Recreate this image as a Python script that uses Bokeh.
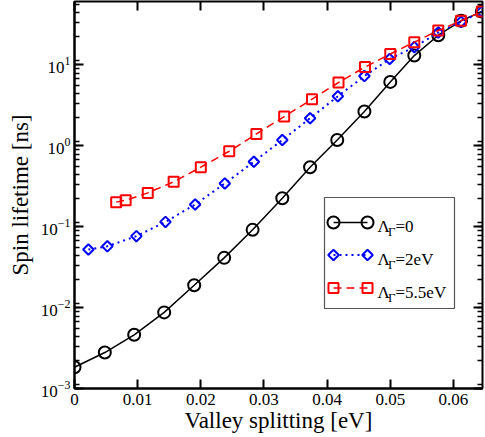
from bokeh.plotting import figure
from bokeh.models import Range1d, LinearAxis, LogAxis, LinearScale, FixedTicker, LogTicker, NumeralTickFormatter
from bokeh.core.properties import value
from bokeh.embed import file_html
from bokeh.resources import INLINE

# ---- data ----
x_lam0 = [0.0, 0.0048, 0.00945, 0.0142, 0.01895, 0.0237, 0.0282, 0.0329, 0.0373, 0.0416,
          0.0459, 0.0500, 0.0538, 0.0576, 0.0612, 0.0645]
y_lam0 = [0.00183, 0.00278, 0.0046, 0.0087, 0.0188, 0.041, 0.091, 0.223, 0.54, 1.17,
          2.63, 6.1, 12.9, 23.0, 34.7, 45.0]

x_lam2 = [0.0022, 0.0052, 0.0098, 0.0144, 0.0191, 0.0238, 0.0284, 0.0329, 0.0373, 0.0417,
          0.0459, 0.0499, 0.0538, 0.0576, 0.0612, 0.0645]
y_lam2 = [0.052, 0.057, 0.076, 0.114, 0.187, 0.34, 0.63, 1.17, 2.17, 4.06,
          7.2, 11.7, 16.4, 24.8, 33.7, 45.0]

x_lam55 = [0.0066, 0.0081, 0.0116, 0.0157, 0.0200, 0.0245, 0.0288, 0.0332, 0.0376, 0.0418,
           0.0460, 0.0500, 0.0538, 0.0576, 0.0612, 0.0645]
y_lam55 = [0.20, 0.211, 0.26, 0.356, 0.54, 0.85, 1.39, 2.28, 3.73, 6.0,
           9.3, 13.5, 18.9, 26.3, 34.7, 45.0]

x_ticks = [0.0, 0.01, 0.02, 0.03, 0.04, 0.05, 0.06]
legend_values = ["=0", "=2eV", "=5.5eV"]
x_title = "Valley splitting [eV]"
y_title = "Spin lifetime [ns]"

FONT = "Liberation Serif"
W, H = 485, 437
ML, MR, MT, MB = 74, 3, 1, 49
FW, FH = W - ML - MR, H - MT - MB

p = figure(width=W, height=H, y_axis_type="log",
           x_range=Range1d(0, 0.0646), y_range=Range1d(1e-3, 60),
           output_backend="svg", toolbar_location=None,
           min_border_left=ML, min_border_right=MR, min_border_top=MT, min_border_bottom=MB)
p.grid.visible = False
p.outline_line_color = "black"
p.outline_line_width = 2
p.background_fill_color = "white"
p.border_fill_color = "white"

# frame-pixel helper ranges for the legend box
p.extra_x_ranges = {"px": Range1d(0, FW)}
p.extra_y_ranges = {"px": Range1d(0, FH)}
p.extra_x_scales = {"px": LinearScale()}
p.extra_y_scales = {"px": LinearScale()}

def style_axis(ax, labels=True):
    ax.axis_line_color = "black"
    ax.axis_line_width = 2
    ax.major_tick_in = 9
    ax.major_tick_out = 0
    ax.minor_tick_in = 5
    ax.minor_tick_out = 0
    ax.major_tick_line_width = 2
    ax.minor_tick_line_width = 1.5
    ax.major_tick_line_color = "black"
    ax.minor_tick_line_color = "black"
    if labels:
        ax.major_label_text_font = FONT
        ax.major_label_text_font_size = "17px"
        ax.major_label_text_color = "black"
        ax.axis_label_text_font = FONT
        ax.axis_label_text_font_size = "23px"
        ax.axis_label_text_font_style = "normal"
        ax.axis_label_text_color = "black"
    else:
        ax.major_label_text_font_size = "1px"
        ax.major_label_text_color = None
        ax.major_label_standoff = 0
        ax.axis_line_color = None

xt = FixedTicker(ticks=x_ticks, minor_ticks=[])
xa = p.xaxis[0]
xa.ticker = xt
xa.formatter = NumeralTickFormatter(format="0.[00]")
xa.axis_label = x_title
xa.major_label_standoff = 5
xa.axis_label_standoff = 0
style_axis(xa)

ya = p.yaxis[0]
ya.ticker = LogTicker(num_minor_ticks=9)
ya.axis_label = y_title
ya.major_label_standoff = 4
ya.axis_label_standoff = 5
style_axis(ya)

top = LinearAxis(ticker=FixedTicker(ticks=x_ticks, minor_ticks=[]))
style_axis(top, labels=False)
p.add_layout(top, "above")
right = LogAxis(ticker=LogTicker(num_minor_ticks=9))
style_axis(right, labels=False)
p.add_layout(right, "right")

# ---- series ----
p.line(x_lam0, y_lam0, line_color="black", line_width=1.5)
p.scatter(x_lam0, y_lam0, marker="circle", size=12, fill_color=None, line_color="black", line_width=2)

p.line(x_lam2, y_lam2, line_color="blue", line_width=2, line_dash="2 4")
p.scatter(x_lam2, y_lam2, marker="square", angle=0.785398, size=7.5, fill_color=None,
          line_color="blue", line_width=2)

p.line(x_lam55, y_lam55, line_color="red", line_width=1.5, line_dash="8 5")
p.scatter(x_lam55, y_lam55, marker="square", size=10, fill_color=None, line_color="red", line_width=2)

# ---- legend (drawn in frame pixels) ----
p.quad(left=[250], right=[380], bottom=[80], top=[191], fill_color="white",
       line_color="#555555", line_width=1.2, x_range_name="px", y_range_name="px")
rows = [166, 133.5, 100.5]
styles = [
    dict(color="black", dash="solid", marker="circle", size=12, angle=0, lw=1.5),
    dict(color="blue", dash="2 4", marker="square", size=7.5, angle=0.785398, lw=2),
    dict(color="red", dash="8 5", marker="square", size=10, angle=0, lw=1.5),
]
for yc, st, lab in zip(rows, styles, legend_values):
    p.line([259, 293], [yc, yc], line_color=st["color"], line_dash=st["dash"], line_width=st["lw"],
           x_range_name="px", y_range_name="px")
    p.scatter([259, 293], [yc, yc], marker=st["marker"], size=st["size"], angle=st["angle"],
              fill_color=None, line_color=st["color"], line_width=2,
              x_range_name="px", y_range_name="px")
    p.text([303], [yc - 4], text=["Λ"], text_font=value(FONT), text_font_size="17px",
           text_baseline="alphabetic", text_color="black", x_range_name="px", y_range_name="px")
    p.text([313.5], [yc - 9], text=["Γ"], text_font=value(FONT), text_font_size="13px",
           text_baseline="alphabetic", text_color="black", x_range_name="px", y_range_name="px")
    p.text([321], [yc - 4], text=[lab], text_font=value(FONT), text_font_size="17px",
           text_baseline="alphabetic", text_color="black", x_range_name="px", y_range_name="px")

open("out.html", "w").write(file_html(p, INLINE))
